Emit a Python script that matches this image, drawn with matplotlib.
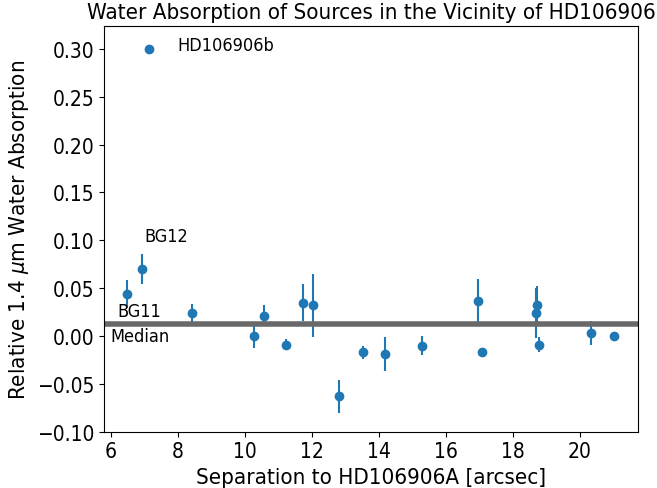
import matplotlib.pyplot as plt

# separation [arcsec], relative water absorption and its error
sep = [7.13, 6.48, 6.93, 8.42, 10.27, 10.57, 11.22, 11.73, 12.03, 12.80,
       13.52, 14.17, 15.28, 16.97, 17.07, 18.69, 18.72, 18.78, 20.33, 21.02]
absorb = [0.300, 0.044, 0.070, 0.024, 0.000, 0.021, -0.009, 0.035, 0.032, -0.063,
          -0.017, -0.0185, -0.010, 0.037, -0.0165, 0.024, 0.032, -0.009, 0.0035, 0.0003]
err = [0.0, 0.015, 0.016, 0.009, 0.012, 0.011, 0.006, 0.019, 0.033, 0.017,
       0.007, 0.018, 0.010, 0.023, 0.0, 0.026, 0.020, 0.008, 0.0125, 0.0]
median = 0.0125

# the reference text is a narrow DejaVu
plt.rcParams['font.stretch'] = 'condensed'

fig = plt.figure(figsize=(6.57, 4.89), dpi=100)
ax = fig.add_subplot(111)

ax.errorbar(sep, absorb, yerr=err, fmt='o', color='#1f77b4', markersize=6, elinewidth=1.5)
ax.axhline(median, color='dimgray', lw=4)

ax.text(8.0, 0.304, 'HD106906b', fontsize=13, va='center')
ax.text(7.01, 0.105, 'BG12', fontsize=13, va='center')
ax.text(6.2, 0.026, 'BG11', fontsize=13, va='center')
ax.text(6.0, 0.0, 'Median', fontsize=13, va='center')

ax.set_xlim(5.79, 21.73)
ax.set_ylim(-0.1, 0.324)
ax.set_xticks([6, 8, 10, 12, 14, 16, 18, 20])
ax.tick_params(labelsize=15)
ax.set_xlabel('Separation to HD106906A [arcsec]', fontsize=16)
ax.set_ylabel(r'Relative 1.4 $\mu$m Water Absorption', fontsize=16)
ax.set_title('Water Absorption of Sources in the Vicinity of HD106906', fontsize=16)

fig.subplots_adjust(left=0.158, right=0.971, top=0.945, bottom=0.115)
fig.savefig('out.png')
